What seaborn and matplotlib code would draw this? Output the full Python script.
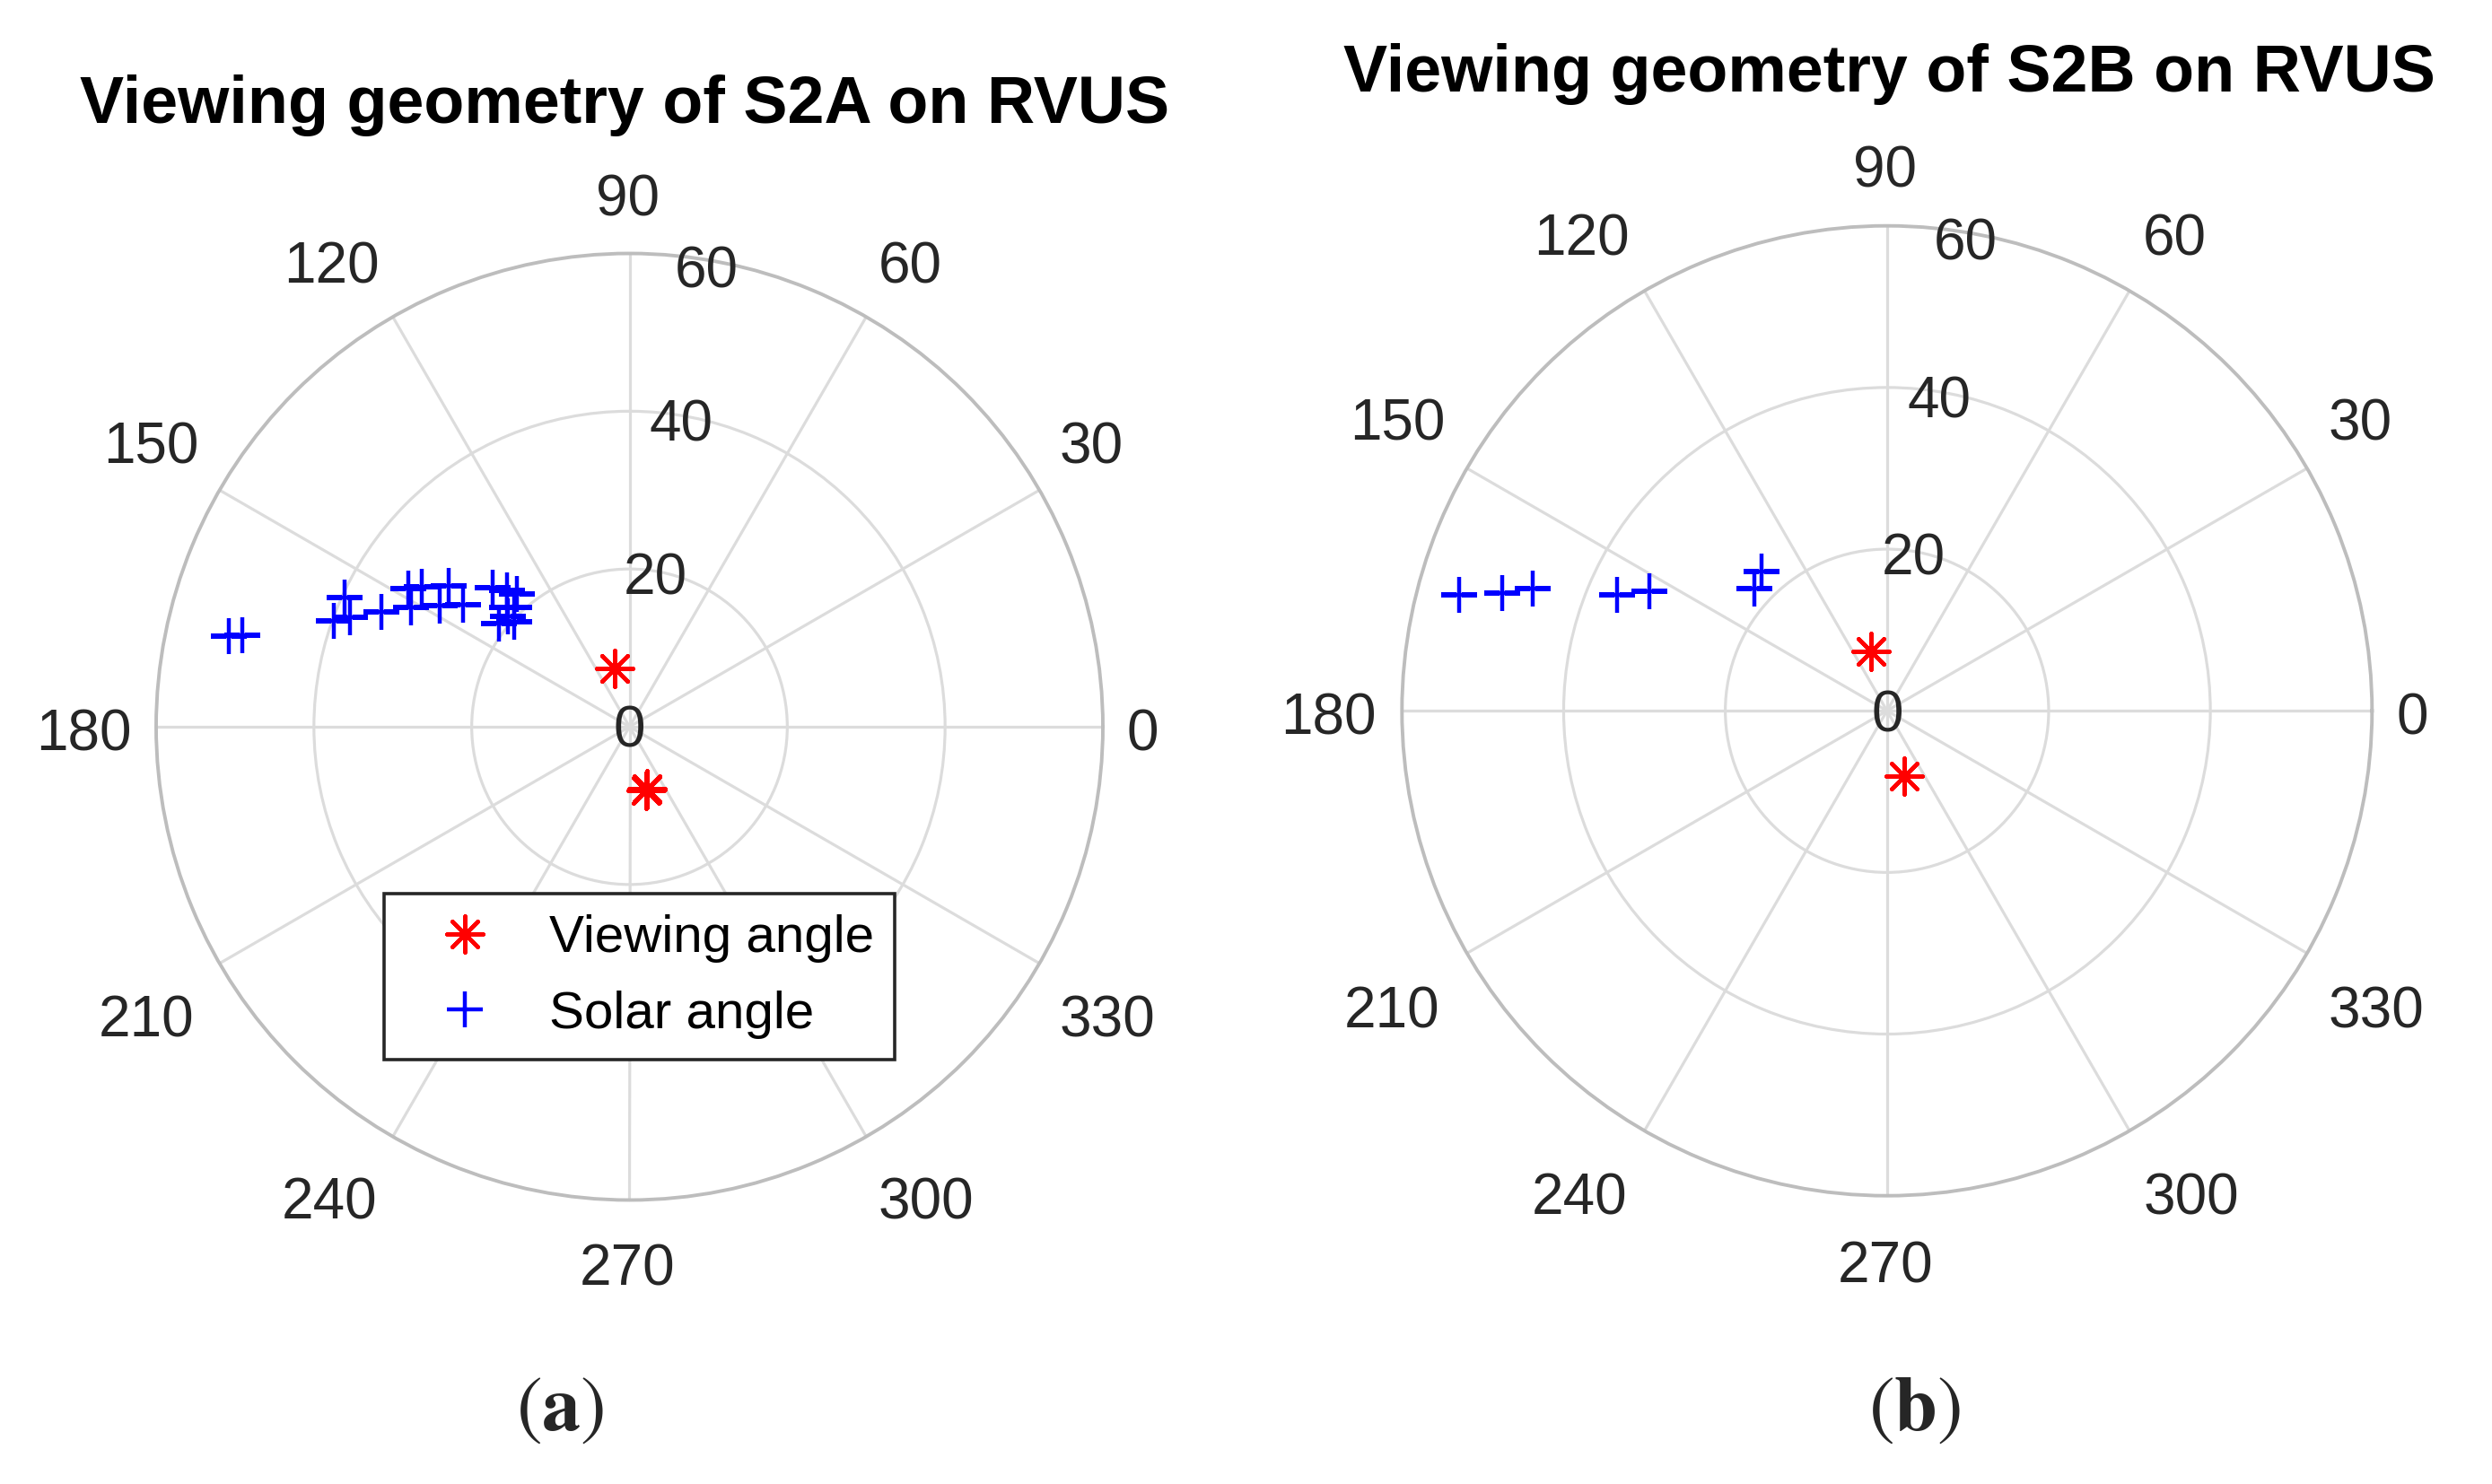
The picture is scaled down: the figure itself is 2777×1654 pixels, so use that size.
import numpy as np
import seaborn as sns
import matplotlib
matplotlib.use("Agg")
import matplotlib.pyplot as plt
import matplotlib.transforms as mtrans

# viewing / solar geometry (azimuth in deg, zenith in deg)
solar_a_az = [167.2, 166.7, 155.6, 160.3, 158.6, 155.2, 148.0, 151.4, 146.0, 147.4,
              142.1, 143.7, 134.6, 132.0, 130.2, 141.8, 137.7, 137.7, 135.8, 133.9]
solar_a_zen = [52.1, 50.4, 39.6, 39.8, 38.1, 34.7, 33.0, 31.5, 31.7, 28.6,
               29.1, 26.2, 24.7, 23.2, 22.1, 21.1, 19.7, 20.8, 21.7, 21.0]
view_a_az = [104.6, 104.6, 285.3, 284.8, 285.8]
view_a_zen = [7.6, 7.6, 8.25, 8.4, 8.1]

solar_b_az = [164.8, 163.0, 161.0, 156.7, 153.2, 131.9, 137.4]
solar_b_zen = [54.8, 49.8, 46.4, 36.3, 32.9, 23.2, 22.3]
view_b_az = [105.1, 284.7]
view_b_zen = [7.6, 8.4]

angle_ticks = list(range(0, 360, 30))
radial_ticks = [0, 20, 40, 60]
rmax = 60

sns.set_style("white")
plt.rcParams['font.family'] = ['Liberation Sans', 'DejaVu Sans']

W, H = 2777, 1654
fig = plt.figure(figsize=(W / 100, H / 100), dpi=100)

# where matlab put the angle labels (glyph centre, in units of the outer radius)
label_pos = {0: (1.084, -0.006), 30: (0.975, 0.600), 60: (0.593, 0.981),
             90: (-0.004, 1.123), 120: (-0.629, 0.981), 150: (-1.01, 0.600),
             180: (-1.152, -0.006), 210: (-1.020, -0.611), 240: (-0.634, -0.997),
             270: (-0.004, -1.137), 300: (0.627, -0.997), 330: (1.009, -0.611)}

FS = 46
GREY_TXT = '#262626'


def setup_polar(ax):
    ax.set_ylim(0, rmax)
    ax.set_xticks(np.deg2rad(angle_ticks))
    ax.set_xticklabels([])
    ax.set_yticks([20, 40])
    ax.set_yticklabels([])
    ax.tick_params(length=0)
    ax.grid(True, color='#dcdcdc', linewidth=2.3)
    ax.spines['polar'].set_color('#bdbdbd')
    ax.spines['polar'].set_linewidth(2.8)
    # baseline shifted down by half a digit height so text is centred on the glyphs
    tr = mtrans.offset_copy(ax.transData, fig=fig, y=-0.358 * FS, units='points')
    for a in angle_ticks:
        fx, fy = label_pos[a]
        th = np.arctan2(fy, fx)
        rr = np.hypot(fx, fy) * rmax
        ax.text(th, rr, str(a), transform=tr, ha='center', va='baseline',
                fontsize=FS, color=GREY_TXT, clip_on=False)
    for r in radial_ticks:
        ax.text(np.deg2rad(80.5), r * 0.985, str(r), transform=tr, ha='center',
                va='baseline', fontsize=FS, color=GREY_TXT, clip_on=False)


def draw(ax, v_az, v_zen, s_az, s_zen, legend):
    sns.scatterplot(x=np.deg2rad(v_az), y=v_zen, ax=ax, marker=(8, 2, 0), color='red',
                    s=29 ** 2, linewidth=3.2, label='Viewing angle' if legend else None,
                    legend=False, zorder=3)
    sns.scatterplot(x=np.deg2rad(s_az), y=s_zen, ax=ax, marker='+', color='blue',
                    s=29 ** 2, linewidth=3.2, label='Solar angle' if legend else None,
                    legend=False, zorder=3)
    setup_polar(ax)


axA = fig.add_axes([174 / W, 316.5 / H, 1055 / W, 1055 / H], projection='polar')
draw(axA, view_a_az, view_a_zen, solar_a_az, solar_a_zen, True)

axB = fig.add_axes([1562.3 / W, 321.3 / H, 1081 / W, 1081 / H], projection='polar')
draw(axB, view_b_az, view_b_zen, solar_b_az, solar_b_zen, False)

leg = axA.legend(loc='upper left', bbox_to_anchor=(428 / W, 1 - 996 / H),
                 bbox_transform=fig.transFigure, borderaxespad=0, fontsize=42,
                 frameon=True, fancybox=False, framealpha=1, edgecolor='#262626',
                 borderpad=0.4, handlelength=2.3, handletextpad=0.45,
                 labelspacing=0.52, scatterpoints=1, scatteryoffsets=[0.5],
                 labelcolor='black')
leg.get_frame().set_linewidth(2.6)
leg.set_zorder(5)

fig.text(696.5 / W, 1 - 136.7 / H, 'Viewing geometry of S2A on RVUS', ha='center',
         va='baseline', fontsize=53, fontweight='bold', color='black')
fig.text(2105.6 / W, 1 - 101.7 / H, 'Viewing geometry of S2B on RVUS', ha='center',
         va='baseline', fontsize=53, fontweight='bold', color='black')

fig.text(624 / W, 1 - 1572 / H, r'$(\mathbf{a})$', ha='center', va='center',
         math_fontfamily='stix', fontsize=62)
fig.text(2133.6 / W, 1 - 1572 / H, r'$(\mathbf{b})$', ha='center', va='center',
         math_fontfamily='stix', fontsize=62)

fig.savefig('out.png', dpi=100, facecolor='white')
